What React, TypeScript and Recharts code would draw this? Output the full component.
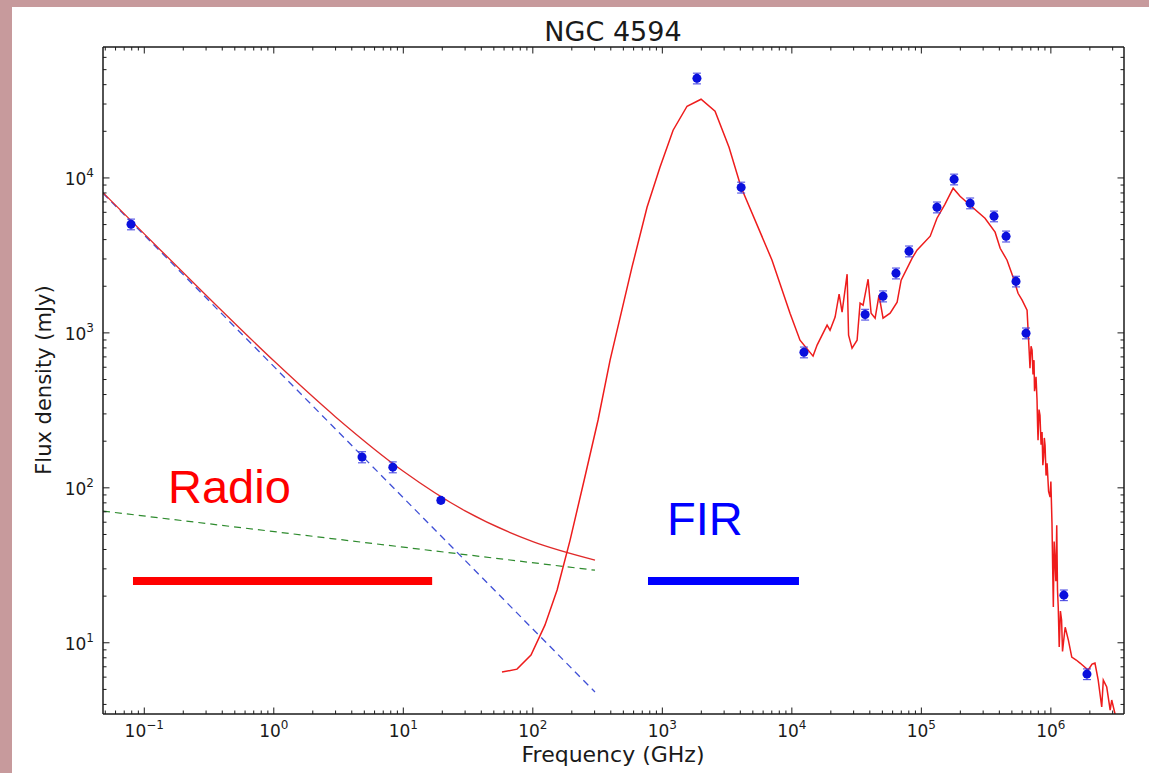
import React from 'react';
import { ComposedChart, Line, Scatter, ErrorBar, XAxis, YAxis } from 'recharts';

// observed photometry: frequency (GHz), flux density (mJy), error (mJy)
const obsFreq = [0.079, 4.8, 8.3, 19.5, 1850, 4060, 12400, 36800, 50600, 63700, 80300, 132000, 179000, 238000, 364000, 451000, 538000, 643000, 1260000, 1900000];
const obsFlux = [5025, 158, 136, 83, 43950, 8690, 750, 1315, 1725, 2425, 3365, 6470, 9800, 6870, 5660, 4200, 2150, 995, 20.3, 6.28];
const obsErr = [400, 13, 11, 3, 3500, 700, 60, 105, 140, 195, 270, 520, 780, 550, 450, 340, 170, 80, 1.6, 0.5];

// radio model components
const synFreq = [0.048, 10, 302];
const synFlux = [7960, 86.3, 4.81];
const ffFreq = [0.048, 302];
const ffFlux = [70.8, 29.4];
const radioFreq = [0.048, 0.1, 0.3, 1, 3, 10, 30, 100, 302];
const radioFlux = [8030, 4356, 1749, 660, 287, 128, 71, 45, 34.2];

// dust + stellar model SED
const sedFreq = [
  57.8, 75.5, 96.8, 124, 154, 194, 249, 319, 395, 583, 762, 959, 1211, 1552, 1991, 2553, 3273, 4055, 7030, 9680,
  11560, 14580, 15670, 18710, 19720, 21580, 23170, 24430, 26720, 27420, 29170, 31900, 33650, 35480, 38800, 40930,
  43950, 47100, 50600, 57400, 65000, 69800, 84900, 92500, 117000, 132000, 152000, 176000, 199000, 238000, 310000,
  371000, 406000, 459000, 511000, 558000, 600000, 655000,
  667000, 680000, 690000, 703000, 716000, 728000, 741000, 748000, 755000, 768000, 782000, 790000, 796000, 810000,
  824000, 840000, 855000, 867000, 879000, 890000, 902000, 918000, 935000, 960000, 986000, 1000000, 1020000, 1033000,
  1045000, 1060000, 1076000, 1093000, 1110000, 1125000, 1140000, 1160000, 1185000, 1210000, 1230000, 1250000,
  1290000, 1365000, 1450000, 1570000, 1680000, 1940000, 2080000, 2190000, 2320000, 2470000, 2540000,
  2700000, 2870000, 2950000, 3130000,
];
const sedFlux = [
  6.47, 6.76, 8.33, 13.0, 21.9, 46.0, 112, 274, 667, 2655, 6470, 11720, 20320, 29040, 32200, 26920, 15780, 8710, 2945, 1340,
  897, 708, 834, 1122, 1040, 1264, 1778, 1361, 2393, 966, 796, 897, 1556, 1510, 2220, 1340,
  1245, 1750, 1245, 1340, 1578, 2188, 3034, 3420, 4207, 5495, 6760, 8590, 7620, 6670, 5495,
  4467, 3516, 2944, 2286, 1802, 1625, 1400,
  1040, 760, 592, 820, 773, 540, 667, 420, 447, 520, 368, 250, 203, 320,
  294, 190, 229, 140, 158, 210, 188, 120, 144, 95, 87.1, 110, 59.2, 30,
  17.0, 45, 34.2, 25, 57.4, 22, 17.0, 9.40, 16, 14.0, 8.8, 9.98,
  12.6, 10.4, 8.09, 7.74, 7.40, 6.67, 7.29, 7.40, 5.74, 3.85, 5.74,
  5.18, 3.68, 4.27, 3.47,
];

// band markers
const radioBandFreq = [0.0818, 16.7];
const firBandFreq = [775, 11350];
const bandLevel = 25;

const X_DOMAIN = [0.048, 3.67e6];
const Y_DOMAIN = [3.47, 7e4];

const zip = (xs: number[], ys: number[]) => xs.map((x, i) => ({ x, y: ys[i] }));
const obsData = obsFreq.map((x, i) => ({ x, y: obsFlux[i], err: [obsErr[i], obsErr[i]] }));
const synData = zip(synFreq, synFlux);
const ffData = zip(ffFreq, ffFlux);
const radioData = zip(radioFreq, radioFlux);
const sedData = zip(sedFreq, sedFlux);
const radioBand = radioBandFreq.map((x) => ({ x, y: bandLevel }));
const firBand = firBandFreq.map((x) => ({ x, y: bandLevel }));

const logTicks = (lo: number, hi: number) => {
  const out: number[] = [];
  for (let e = Math.floor(Math.log10(lo)); e <= Math.ceil(Math.log10(hi)); e++) {
    for (let k = 1; k < 10; k++) {
      const v = k * Math.pow(10, e);
      if (v > lo && v < hi) out.push(v);
    }
  }
  return out;
};
const xTicks = logTicks(X_DOMAIN[0], X_DOMAIN[1]);
const yTicks = logTicks(Y_DOMAIN[0], Y_DOMAIN[1]);

const isMajor = (v: number) => Math.abs(Math.log10(v) - Math.round(Math.log10(v))) < 1e-9;
const expLabel = (v: number) => {
  const e = Math.round(Math.log10(v));
  return e < 0 ? '\u2212' + Math.abs(e) : String(e);
};

const INK = '#1a1a1a';
const FONT = 'DejaVu Sans, sans-serif';

const AxisTick = (props: any) => {
  const { x, y, payload, side, labels } = props;
  const v = payload.value;
  const major = isMajor(v);
  const len = major ? 6.5 : 3.5;
  let x2 = x;
  let y2 = y;
  if (side === 'bottom') y2 = y - len;
  if (side === 'top') y2 = y + len;
  if (side === 'left') x2 = x + len;
  if (side === 'right') x2 = x - len;
  return (
    <g>
      <line x1={x} y1={y} x2={x2} y2={y2} stroke={INK} strokeWidth={1} />
      {labels && major && side === 'bottom' && (
        <text x={x} y={y + 23} textAnchor="middle" fontSize={17} fill={INK} fontFamily={FONT}>
          10<tspan dy={-8} fontSize={12}>{expLabel(v)}</tspan>
        </text>
      )}
      {labels && major && side === 'left' && (
        <text x={x - 9} y={y + 7} textAnchor="end" fontSize={17} fill={INK} fontFamily={FONT}>
          10<tspan dy={-8} fontSize={12}>{expLabel(v)}</tspan>
        </text>
      )}
    </g>
  );
};

export default function App() {
  const axisLine = { stroke: INK, strokeWidth: 1.5 };
  return (
    <div style={{ position: 'absolute', left: 0, top: 0, width: 1149, height: 773, background: '#c79a9c', overflow: 'hidden' }}>
      <div style={{ position: 'absolute', left: 12, top: 7, width: 1137, height: 766, background: '#ffffff' }} />
      <div style={{ position: 'absolute', left: 0, top: 0 }}>
        <ComposedChart width={1149} height={773} margin={{ top: 46, right: 24, left: 43, bottom: 19 }}>
          <XAxis
            dataKey="x"
            type="number"
            scale="log"
            domain={X_DOMAIN}
            allowDataOverflow
            ticks={xTicks}
            interval={0}
            tickSize={0}
            tickMargin={0}
            tickLine={false}
            axisLine={axisLine}
            height={40}
            tick={(p: any) => <AxisTick {...p} side="bottom" labels />}
          />
          <XAxis
            xAxisId="top"
            orientation="top"
            dataKey="x"
            type="number"
            scale="log"
            domain={X_DOMAIN}
            allowDataOverflow
            ticks={xTicks}
            interval={0}
            tickSize={0}
            tickMargin={0}
            tickLine={false}
            axisLine={axisLine}
            height={1}
            tick={(p: any) => <AxisTick {...p} side="top" />}
          />
          <YAxis
            dataKey="y"
            type="number"
            scale="log"
            domain={Y_DOMAIN}
            allowDataOverflow
            ticks={yTicks}
            interval={0}
            tickSize={0}
            tickMargin={0}
            tickLine={false}
            axisLine={axisLine}
            width={60}
            tick={(p: any) => <AxisTick {...p} side="left" labels />}
          />
          <YAxis
            yAxisId="right"
            orientation="right"
            dataKey="y"
            type="number"
            scale="log"
            domain={Y_DOMAIN}
            allowDataOverflow
            ticks={yTicks}
            interval={0}
            tickSize={0}
            tickMargin={0}
            tickLine={false}
            axisLine={axisLine}
            width={1}
            tick={(p: any) => <AxisTick {...p} side="right" />}
          />

          <Line data={ffData} dataKey="y" type="linear" stroke="#2e8b2e" strokeWidth={1.2} strokeDasharray="7 5" dot={false} isAnimationActive={false} />
          <Line data={synData} dataKey="y" type="linear" stroke="#3f4fd6" strokeWidth={1.3} strokeDasharray="7 5" dot={false} isAnimationActive={false} />
          <Line data={radioData} dataKey="y" type="monotone" stroke="#e02a2a" strokeWidth={1.3} dot={false} isAnimationActive={false} />
          <Line data={sedData} dataKey="y" type="linear" stroke="#ee1c1c" strokeWidth={1.5} dot={false} isAnimationActive={false} />
          <Line data={radioBand} dataKey="y" type="linear" stroke="#ff0000" strokeWidth={8} dot={false} isAnimationActive={false} />
          <Line data={firBand} dataKey="y" type="linear" stroke="#0000ff" strokeWidth={8} dot={false} isAnimationActive={false} />

          <Scatter data={obsData} dataKey="y" fill="#0a10dd" isAnimationActive={false}>
            <ErrorBar dataKey="err" direction="y" width={4} stroke="#3a3ae0" strokeWidth={1} />
          </Scatter>
        </ComposedChart>
      </div>
      <svg width={1149} height={773} style={{ position: 'absolute', left: 0, top: 0, pointerEvents: 'none' }}>
        <text x={613} y={41} textAnchor="middle" fontSize={27} fill={INK} fontFamily={FONT}>NGC 4594</text>
        <text x={613} y={762} textAnchor="middle" fontSize={22} fill={INK} fontFamily={FONT}>Frequency (GHz)</text>
        <text x={51} y={380} textAnchor="middle" fontSize={21} fill={INK} fontFamily={FONT} transform="rotate(-90 51 380)">Flux density (mJy)</text>
        <text x={168} y={503} fontSize={47} fill="#ff0000" fontFamily="Liberation Sans, Arial, sans-serif">Radio</text>
        <text x={667} y={535} fontSize={47} fill="#0000ff" fontFamily="Liberation Sans, Arial, sans-serif">FIR</text>
      </svg>
    </div>
  );
}
